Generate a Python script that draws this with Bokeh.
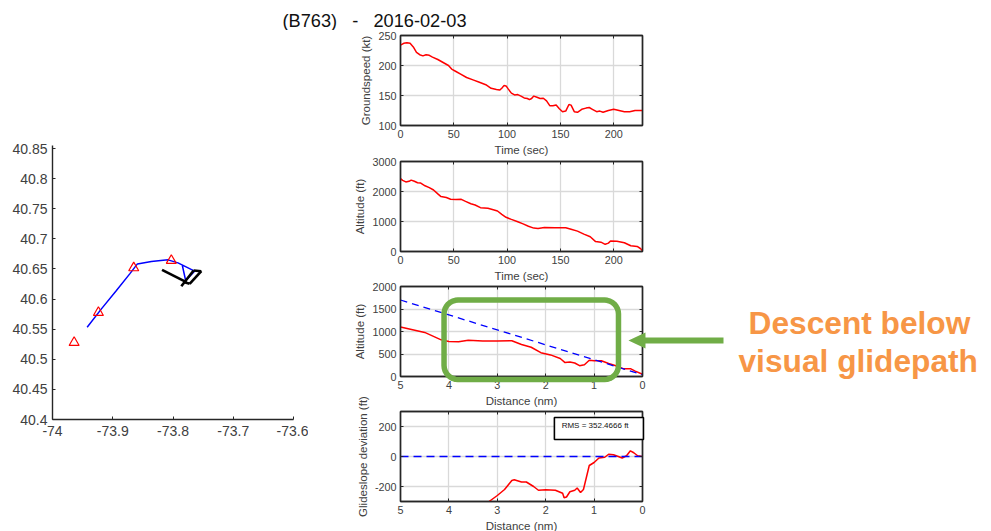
import numpy as np
from bokeh.embed import file_html
from bokeh.resources import INLINE
from bokeh.plotting import figure
from bokeh.layouts import column, row
from bokeh.models import (Label, PolyAnnotation, LinearAxis, FixedTicker,
                          Range1d, CustomLabelingPolicy)

title_text = "(B763)\u00a0\u00a0\u00a0-\u00a0\u00a0\u00a02016-02-03"
annotation_lines = ["Descent below", "visual glidepath"]
rms_text = "RMS = 352.4666 ft"

track_lon = [-73.9425, -73.9188, -73.8939, -73.8718, -73.8591, -73.8359, -73.8083, -73.7917, -73.7641, -73.7790, -73.7845]
track_lat = [40.5533, 40.5837, 40.6142, 40.6418, 40.6584, 40.6623, 40.6651, 40.6601, 40.6463, 40.6308, 40.6557]
marker_lon = [-73.9641, -73.9238, -73.8652, -73.8028]
marker_lat = [40.5278, 40.5776, 40.6518, 40.6640]
runway_lon = [[-73.8182, -73.7779], [-73.7862, -73.7658], [-73.7724, -73.7530], [-73.7658, -73.7530], [-73.7807, -73.7724]]
runway_lat = [[40.6486, 40.6280], [40.6213, 40.6474], [40.6253, 40.6462], [40.6474, 40.6462], [40.6280, 40.6253]]
map_xticks = [-74, -73.9, -73.8, -73.7, -73.6]
map_yticks = [40.4, 40.45, 40.5, 40.55, 40.6, 40.65, 40.7, 40.75, 40.8, 40.85]

gs_t = [0, 3, 6, 9, 12, 15, 18, 21, 24, 27, 30, 35, 40, 45, 48, 52, 56, 62, 68, 74, 80, 85, 90, 93, 95, 97, 99, 101, 104, 107, 110, 113, 116, 119, 121, 123, 125, 128, 131, 134, 137, 140, 143, 146, 149, 152, 155, 158, 160, 163, 166, 170, 174, 177, 180, 184, 187, 190, 195, 200, 205, 210, 215, 220, 227]
gs_v = [234, 237, 238, 237, 231, 222, 218, 216, 218, 217, 214, 210, 205, 200, 194, 190, 186, 180, 176, 172, 168, 162, 160, 159, 162, 166.5, 166, 161, 154, 151, 151.5, 149, 146, 145, 143, 145, 149, 147, 145, 145.5, 141, 133, 133, 134, 128, 123, 124, 135, 134, 123, 122, 127, 129, 130, 127, 123, 124, 122, 125, 127, 125, 123, 123, 125, 125]

alt_t = [0, 2, 5, 8, 10, 13, 16, 19, 23, 27, 31, 35, 38, 43, 47, 52, 57, 61, 66, 70, 75, 82, 87, 91, 95, 99, 104, 110, 115, 120, 125, 129, 135, 145, 155, 160, 166, 172, 178, 183, 188, 192, 195, 197, 203, 210, 216, 222, 225, 227]
alt_v = [2430, 2370, 2320, 2340, 2380, 2340, 2290, 2280, 2190, 2130, 2050, 1920, 1830, 1800, 1740, 1730, 1740, 1670, 1590, 1550, 1460, 1440, 1390, 1350, 1240, 1140, 1070, 990, 920, 840, 780, 770, 800, 790, 790, 740, 680, 580, 490, 330, 310, 240, 280, 350, 340, 290, 190, 170, 100, 30]

prof_d = [5, 4.5, 4.16, 4.0, 3.8, 3.6, 3.3, 3.0, 2.7, 2.5, 2.3, 2.1, 1.9, 1.7, 1.6, 1.5, 1.4, 1.3, 1.2, 1.1, 1.0, 0.85, 0.7, 0.55, 0.4, 0.25, 0.15, 0]
prof_v = [1100, 980, 815, 780, 770, 805, 790, 790, 795, 710, 650, 530, 480, 400, 310, 320, 300, 240, 260, 360, 350, 350, 290, 240, 175, 175, 120, 50]
glide_d = [5, 0]
glide_v = [1700, 40]

dev_d = [3.17, 3.0, 2.85, 2.7, 2.65, 2.5, 2.4, 2.25, 2.15, 2.0, 1.8, 1.65, 1.62, 1.57, 1.5, 1.4, 1.35, 1.28, 1.22, 1.1, 1.0, 0.9, 0.78, 0.7, 0.6, 0.5, 0.42, 0.33, 0.25, 0.18, 0.1, 0]
dev_v = [-300, -260, -220, -160, -155, -170, -170, -200, -225, -222, -225, -245, -275, -270, -235, -225, -210, -240, -220, -60, -40, -10, -5, 15, 12, 0, -10, 5, 38, 25, 5, 0]
zero_d = [5, 0]
zero_v = [0, 0]

FONT = "Liberation Sans"
TICKC = "#404040"
EDGE = "#262626"
GRID = "#d9d9d9"
GREEN = "#70ad47"
ORANGE = "#f79646"
RED = "#ff0000"
BLUE = "#0000ff"

hide_labels = CustomLabelingPolicy(code="for (const i of indices) indices.unset(i); return indices")


def rounded_box(left, right, top, bottom, rx, ry):
    """Outline of a rounded rectangle, in data units; x runs right to left on these panels."""
    xs, ys = [], []
    corners = [(right + rx, top - ry, 90, 0), (right + rx, bottom + ry, 0, -90),
               (left - rx, bottom + ry, -90, -180), (left - rx, top - ry, 180, 90)]
    for cx, cy, a0, a1 in corners:
        for a in np.radians(np.linspace(a0, a1, 9)):
            xs.append(float(cx - rx * np.cos(a)))
            ys.append(float(cy + ry * np.sin(a)))
    return xs, ys


def style_axis(ax, size, ticks, labels=None):
    ax.ticker = FixedTicker(ticks=ticks)
    ax.major_label_overrides = {t: (labels[i] if labels else str(t)) for i, t in enumerate(ticks)}
    ax.major_label_text_font = FONT
    ax.major_label_text_font_size = size
    ax.major_label_text_color = TICKC
    ax.major_tick_in = 3
    ax.major_tick_out = 0
    ax.minor_tick_line_color = None
    ax.axis_line_color = EDGE
    ax.axis_line_width = 1.4
    ax.major_tick_line_color = EDGE
    ax.axis_label_text_font = FONT
    ax.axis_label_text_font_style = "normal"
    ax.axis_label_text_font_size = "11.5px"
    ax.axis_label_text_color = TICKC


def panel(height, top, bottom, xr, yr, xticks, yticks, xlabel, ylabel, ylabels=None):
    p = figure(width=683, height=height, x_range=Range1d(*xr), y_range=Range1d(*yr),
               min_border_left=92, min_border_right=349, min_border_top=top, min_border_bottom=bottom,
               toolbar_location=None, output_backend="svg", tools="", border_fill_alpha=0)
    p.xaxis.axis_label = xlabel
    p.yaxis.axis_label = ylabel
    style_axis(p.xaxis[0], "10.8px", xticks)
    style_axis(p.yaxis[0], "10.8px", yticks, ylabels)
    p.xaxis[0].major_label_standoff = 4
    p.yaxis[0].major_label_standoff = 4
    p.xaxis[0].axis_label_standoff = 3
    p.yaxis[0].axis_label_standoff = 3
    p.xgrid.ticker = FixedTicker(ticks=xticks)
    p.ygrid.ticker = FixedTicker(ticks=yticks)
    p.grid.grid_line_color = GRID
    p.grid.grid_line_width = 1.3
    for side, tk in (("above", xticks), ("right", yticks)):
        a = LinearAxis(ticker=FixedTicker(ticks=tk), major_label_policy=hide_labels,
                       major_label_text_font_size="1px",
                       major_tick_in=3, major_tick_out=0, minor_tick_line_color=None,
                       axis_line_color=EDGE, axis_line_width=1.4, major_tick_line_color=EDGE,
                       major_label_standoff=0)
        p.add_layout(a, side)
    p.outline_line_color = EDGE
    p.outline_line_width = 1.4
    p.margin = (0, 0, -4, 0)
    return p


title_fig = figure(width=991, height=30, toolbar_location=None, output_backend="svg", tools="",
                   x_axis_type=None, y_axis_type=None, min_border=0, outline_line_color=None)
title_fig.grid.visible = False
title_fig.add_layout(Label(x=282, y=0, x_units="screen", y_units="screen", text=title_text,
                           text_font=FONT, text_font_size="18.2px", text_color="#111111",
                           text_baseline="bottom"))

m = figure(width=308, height=501, x_range=Range1d(-74, -73.6), y_range=Range1d(40.4, 40.855),
           min_border_left=52, min_border_right=15, min_border_top=115, min_border_bottom=112,
           toolbar_location=None, output_backend="svg", tools="", outline_line_color=None)
m.grid.visible = False
style_axis(m.xaxis[0], "14px", map_xticks, ["-74", "-73.9", "-73.8", "-73.7", "-73.6"])
style_axis(m.yaxis[0], "14px", map_yticks)
m.xaxis[0].major_label_standoff = 6
m.yaxis[0].major_label_standoff = 5
m.line(track_lon, track_lat, line_color=BLUE, line_width=1.5)
m.multi_line(runway_lon, runway_lat, line_color="black", line_width=2.6)
m.scatter(marker_lon, marker_lat, marker="triangle", size=10, fill_color=None, line_color=RED, line_width=1.2)

p1 = panel(129, 5, 34, (0, 227), (100, 250), [0, 50, 100, 150, 200], [100, 150, 200, 250], "Time (sec)", "Groundspeed (kt)")
p1.line(gs_t, gs_v, line_color=RED, line_width=1.5)

p2 = panel(129, 6, 33, (0, 227), (0, 3000), [0, 50, 100, 150, 200], [0, 1000, 2000, 3000], "Time (sec)", "Altitude (ft)")
p2.line(alt_t, alt_v, line_color=RED, line_width=1.5)

p3 = panel(129, 6, 33, (5, 0), (0, 2000), [5, 4, 3, 2, 1, 0], [0, 500, 1000, 1500, 2000], "Distance (nm)", "Altitude (ft)")
p3.line(prof_d, prof_v, line_color=RED, line_width=1.5)
p3.line(glide_d, glide_v, line_color=BLUE, line_width=1.3, line_dash="7 5")

p4 = panel(142, 18, 34, (5, 0), (-300, 300), [5, 4, 3, 2, 1, 0], [-200, 0, 200], "Distance (nm)", "Glideslope deviation (ft)",
           ylabels=["-200", "0", "200"])
p4.margin = (-12, 0, -4, 0)
p4.line(dev_d, dev_v, line_color=RED, line_width=1.5)
p4.line(zero_d, zero_v, line_color=BLUE, line_width=1.3, line_dash="8 5")

# Transparent sheet over the page's lower part, in panel 3's data units,
# for the marks that leave their panels' frames.
OVER_Y = (-3444.4, 2133.3)
DEV_Y = (-500, 1173)


def dev_to_over(v):
    return OVER_Y[0] + (v - DEV_Y[0]) / (DEV_Y[1] - DEV_Y[0]) * (OVER_Y[1] - OVER_Y[0])


over = figure(width=991, height=251, x_range=Range1d(13.264, -7.211), y_range=Range1d(*OVER_Y),
              toolbar_location=None, output_backend="svg", tools="", x_axis_type=None, y_axis_type=None,
              min_border=0, outline_line_color=None, background_fill_alpha=0, border_fill_alpha=0)
over.grid.visible = False
over.margin = (-251, 0, 0, 0)
box_x, box_y = rounded_box(4.10, 0.496, 1700, -67, 0.29, 311)
over.add_layout(PolyAnnotation(xs=box_x, ys=box_y, fill_alpha=0, fill_color=None,
                               line_color=GREEN, line_width=5.5, line_alpha=1))
over.add_layout(PolyAnnotation(xs=[0.289, -0.062, -0.062, -1.674, -1.674, -0.062, -0.062],
                               ys=[800, 978, 867, 867, 733, 733, 622],
                               fill_color=GREEN, fill_alpha=1, line_color=None))
for txt, xx, yy in zip(annotation_lines, (748, 738), (190.5, 152.5)):
    over.add_layout(Label(x=xx, y=yy, x_units="screen", y_units="screen", text=txt, text_baseline="bottom",
                          text_font=FONT, text_font_style="bold", text_font_size="31.7px", text_color=ORANGE))
over.add_layout(PolyAnnotation(xs=[1.82, -0.02, -0.02, 1.82],
                               ys=[dev_to_over(260), dev_to_over(260), dev_to_over(113), dev_to_over(113)],
                               fill_color="white", fill_alpha=1, line_color="black", line_alpha=1, line_width=1.6))
over.add_layout(Label(x=1.67, y=dev_to_over(207), text=rms_text, text_font=FONT, text_font_size="8px",
                      text_color="#111111", text_baseline="middle"))

layout = column(title_fig, row(m, column(p1, p2, p3, p4, spacing=0), spacing=0), over, spacing=0)
open("out.html", "w").write(file_html(layout, INLINE))
